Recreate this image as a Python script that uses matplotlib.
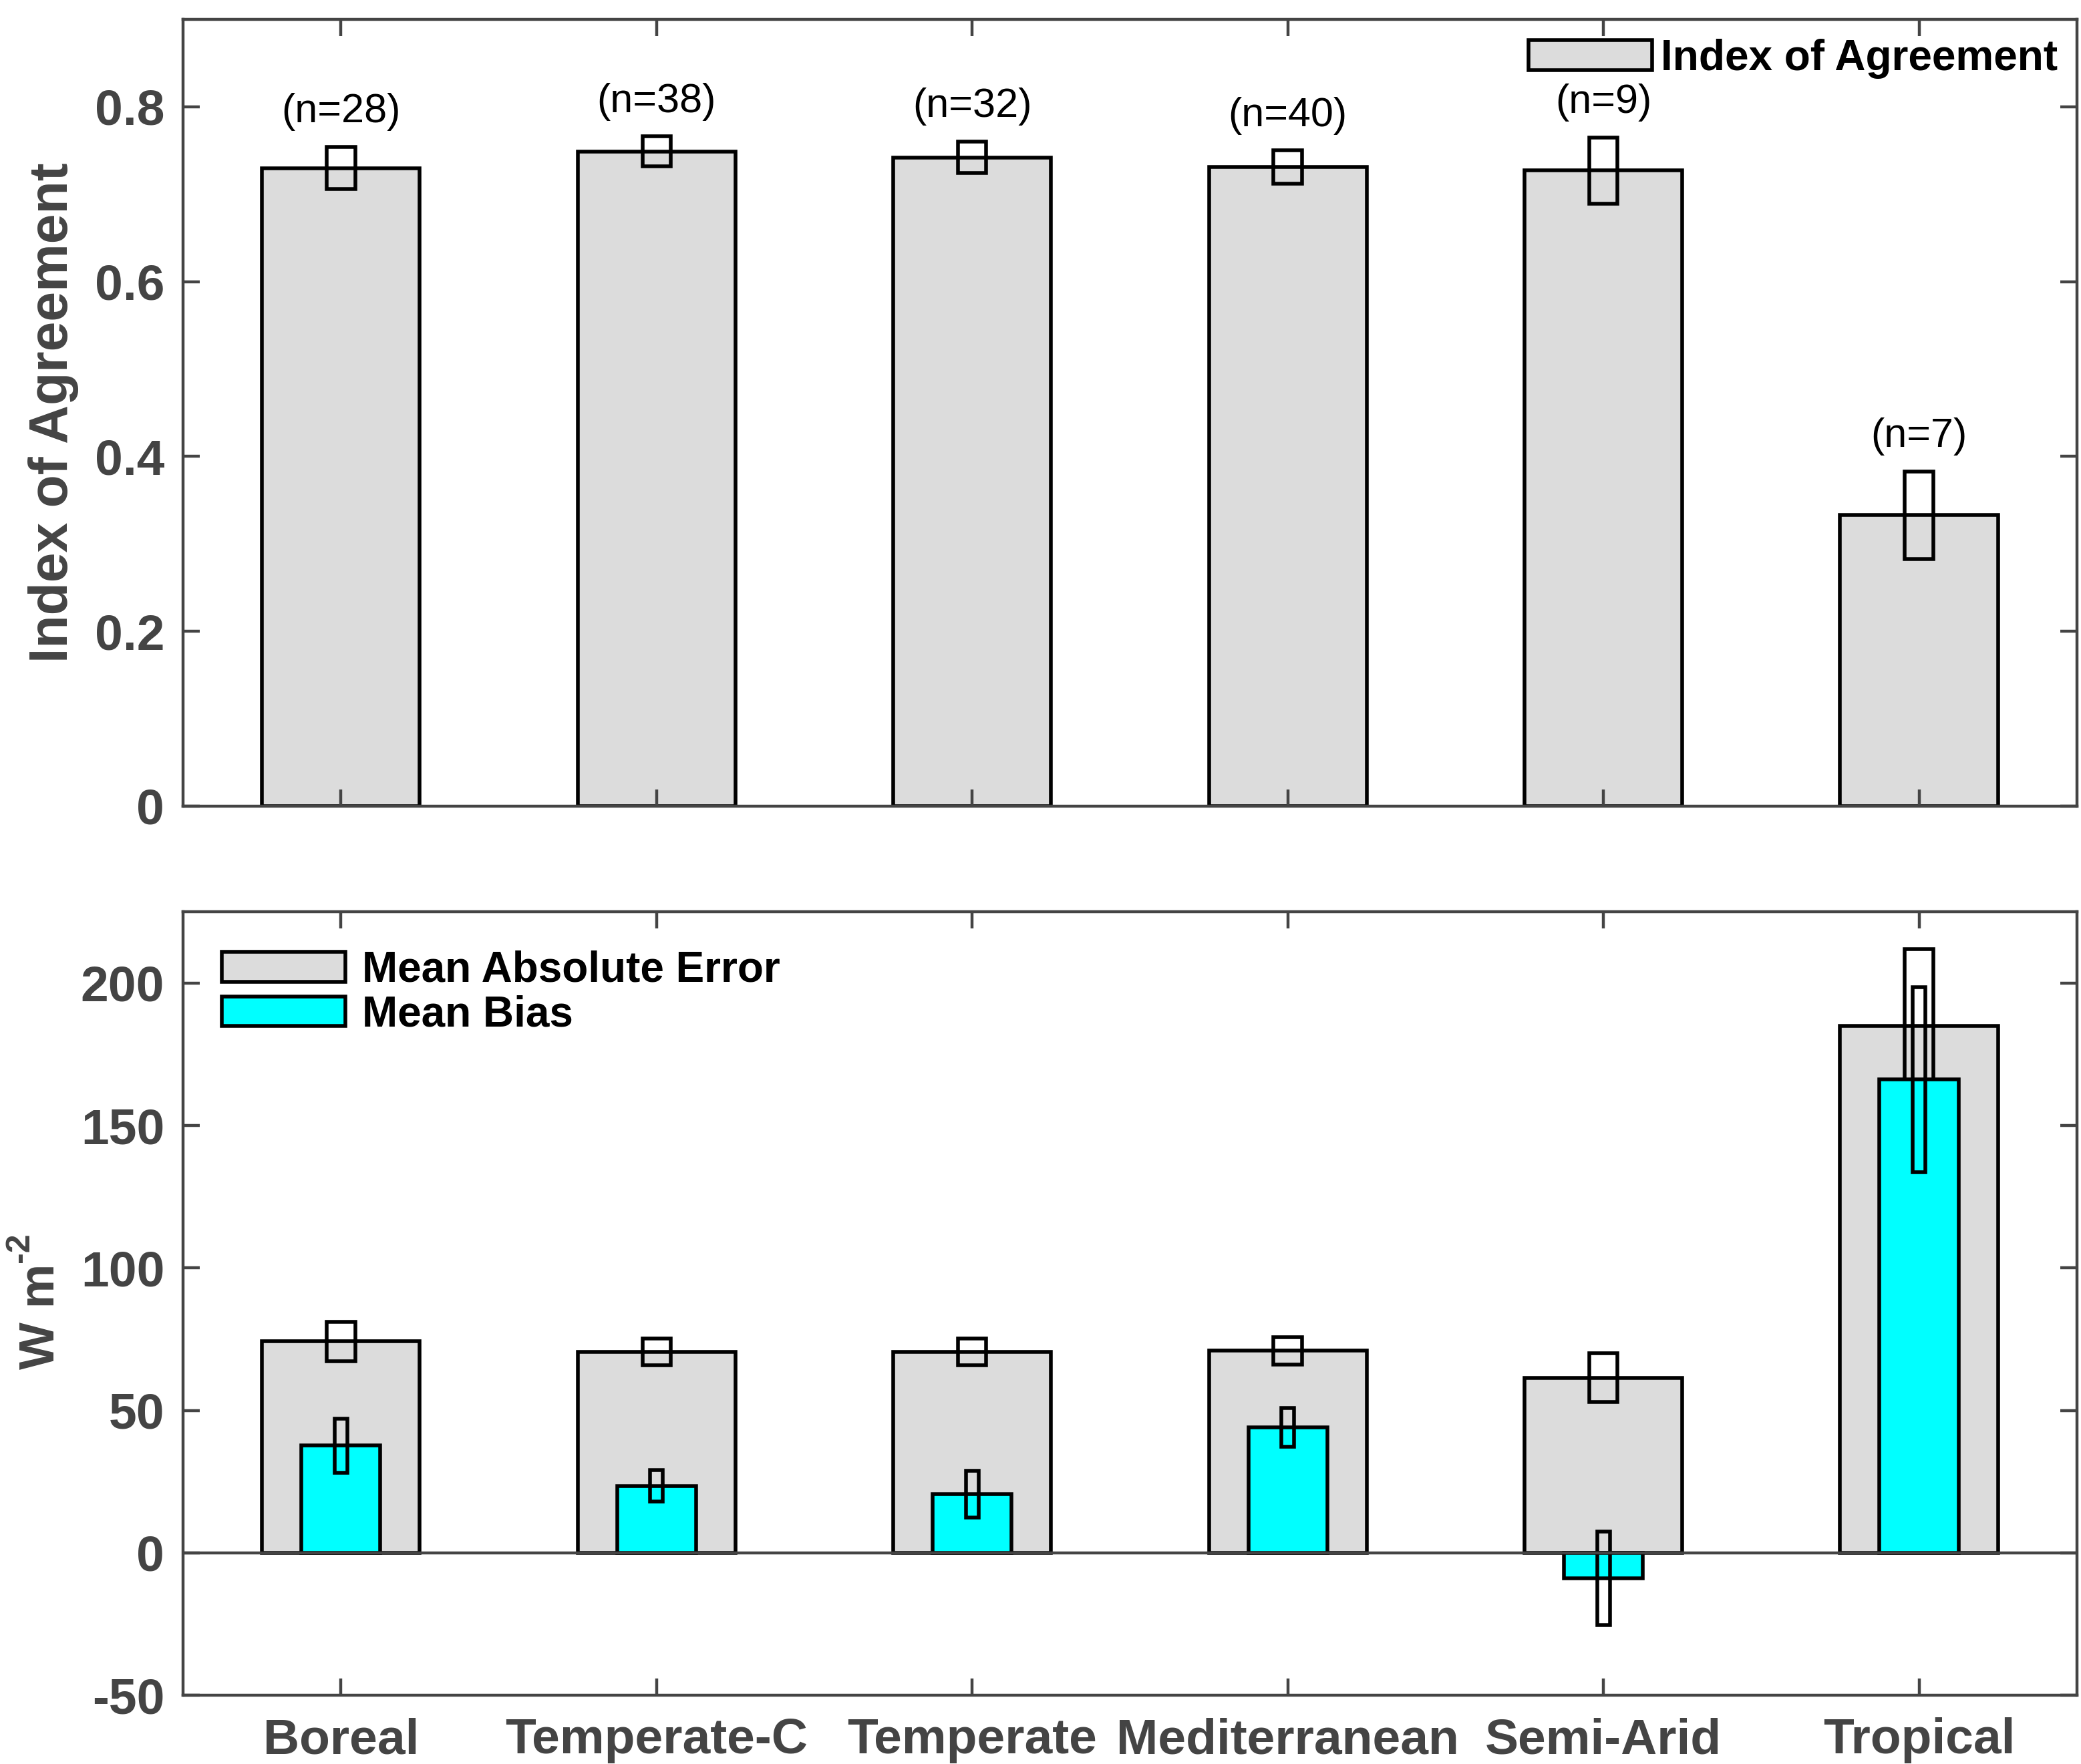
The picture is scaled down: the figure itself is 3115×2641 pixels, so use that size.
import matplotlib
matplotlib.use("Agg")
import matplotlib.pyplot as plt
import numpy as np

plt.rcParams['font.family'] = ['Liberation Sans', 'DejaVu Sans']
plt.rcParams['axes.unicode_minus'] = False

regions = ['Boreal', 'Temperate-C', 'Temperate', 'Mediterranean', 'Semi-Arid', 'Tropical']
n_sites = [28, 38, 32, 40, 9, 7]

# index of agreement, mean and spread
ioa = [0.730, 0.749, 0.742, 0.731, 0.727, 0.333]
ioa_err = [0.024, 0.017, 0.018, 0.019, 0.038, 0.050]

# mean absolute error and mean bias (W m-2)
mae = [74.2, 70.6, 70.6, 70.9, 61.5, 185.0]
mae_err = [7.0, 4.7, 4.7, 4.7, 8.5, 27.0]
mb = [37.6, 23.5, 20.7, 44.1, -8.9, 166.2]
mb_err = [9.4, 5.6, 8.2, 6.8, 16.4, 32.5]

gray = '#dcdcdc'
axcol = '#444444'
x = np.arange(1, len(regions) + 1)

fig = plt.figure(figsize=(15.575, 13.205), dpi=200)
ax1 = fig.add_axes([0.088, 0.543, 0.910, 0.446])
ax2 = fig.add_axes([0.088, 0.039, 0.910, 0.444])


def style(ax):
    for s in ax.spines.values():
        s.set_color(axcol)
        s.set_linewidth(1.6)
    ax.tick_params(direction='in', length=9, width=1.6, color=axcol,
                   top=True, right=True, labelcolor=axcol, labelsize=27, pad=10)
    for lab in ax.get_xticklabels() + ax.get_yticklabels():
        lab.set_fontweight('bold')
    ax.set_xlim(0.5, 6.5)
    ax.set_xticks(x)


# top panel
ax1.bar(x, ioa, width=0.5, color=gray, edgecolor='k', linewidth=2, label='Index of Agreement')
ax1.bar(x, [2 * e for e in ioa_err], bottom=[m - e for m, e in zip(ioa, ioa_err)],
        width=0.09, fill=False, edgecolor='k', linewidth=2)
for xi, m, e, n in zip(x, ioa, ioa_err, n_sites):
    ax1.text(xi, m + e + 0.04, '(n=%d)' % n, ha='center', va='center', fontsize=22, color='k')
ax1.set_ylim(0, 0.9)
ax1.set_yticks([0, 0.2, 0.4, 0.6, 0.8])
ax1.set_yticklabels(['0', '0.2', '0.4', '0.6', '0.8'])
ax1.set_xticklabels([])
ax1.set_ylabel('Index of Agreement', fontsize=29, fontweight='bold', color=axcol)
ax1.yaxis.set_label_coords(-0.055, 0.5)
style(ax1)
ax1.legend(loc='upper right', frameon=False, prop={'weight': 'bold', 'size': 23},
           handlelength=2.9, handleheight=0.7, handletextpad=0.2,
           borderaxespad=0.15, borderpad=0.3)

# bottom panel
ax2.bar(x, mae, width=0.5, color=gray, edgecolor='k', linewidth=2, label='Mean Absolute Error', zorder=2)
ax2.bar(x, [2 * e for e in mae_err], bottom=[m - e for m, e in zip(mae, mae_err)],
        width=0.09, fill=False, edgecolor='k', linewidth=2, zorder=2)
ax2.bar(x, mb, width=0.25, color='cyan', edgecolor='k', linewidth=2, label='Mean Bias', zorder=3)
ax2.bar(x, [2 * e for e in mb_err], bottom=[m - e for m, e in zip(mb, mb_err)],
        width=0.04, fill=False, edgecolor='k', linewidth=2, zorder=3)
ax2.axhline(0, color=axcol, linewidth=1.6, zorder=4)
ax2.set_ylim(-50, 225)
ax2.set_yticks([-50, 0, 50, 100, 150, 200])
ax2.set_xticklabels(regions)
style(ax2)
ax2.tick_params(axis='x', labelsize=27, pad=12)
# y label "W m-2" with a plain hyphen in the exponent
ax2.text(-0.075, 0.416, 'W m', rotation=90, ha='center', va='bottom', fontsize=27,
         fontweight='bold', color=axcol, transform=ax2.transAxes, clip_on=False)
ax2.text(-0.086, 0.553, '-2', rotation=90, ha='center', va='bottom', fontsize=18,
         fontweight='bold', color=axcol, transform=ax2.transAxes, clip_on=False)
ax2.legend(loc='upper left', frameon=False, prop={'weight': 'bold', 'size': 23},
           handlelength=2.9, handleheight=0.7, handletextpad=0.4, labelspacing=0.1,
           borderaxespad=0.3, borderpad=0.6)

fig.savefig('out.png', dpi=200)
